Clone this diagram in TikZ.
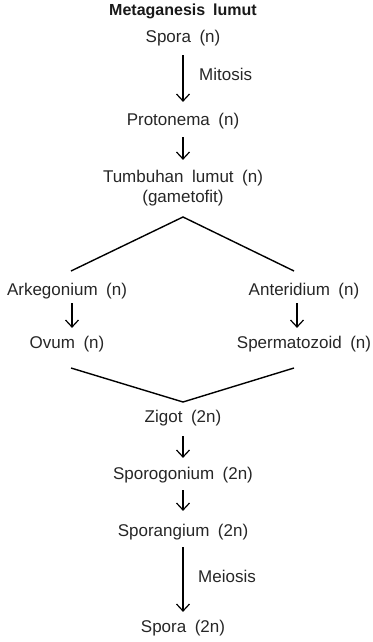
\documentclass[tikz,border=0pt]{standalone}
\usepackage{fontspec}
\setmainfont{Liberation Sans}[WordSpace=1.8]
\usetikzlibrary{arrows.meta}
\newcommand\lblfont{\fontsize{17}{20}\selectfont}
\newcommand\ttlfont{\fontsize{16}{19}\selectfont\bfseries}
\begin{document}
\begin{tikzpicture}[x=1pt,y=-1pt,
  lbl/.style={font=\lblfont, inner sep=0pt, text=black!85},
  ttl/.style={font=\ttlfont, inner sep=0pt, text=black!90},
  arr/.style={line width=1.2pt, -{Straight Barb[length=7pt,width=13pt,line width=1.2pt]}},
  ln/.style={line width=1.4pt}]
\useasboundingbox (0,0) rectangle (372,642);
\node[ttl] (title) at (183,11) {Metaganesis lumut};
\node[lbl] (spora) at (183,38) {Spora (n)};
\node[lbl] (proto) at (183,121) {Protonema (n)};
\node[lbl, align=center] (tumb) at (183,188) {Tumbuhan lumut (n)\\(gametofit)};
\coordinate (apex1) at (183,217);
\coordinate (l1) at (71,271);
\coordinate (r1) at (294,271);
\node[lbl] (arke) at (67,291) {Arkegonium (n)};
\node[lbl] (ante) at (304,291) {Anteridium (n)};
\node[lbl] (ovum) at (67,344) {Ovum (n)};
\node[lbl] (sperm) at (304,344) {Spermatozoid (n)};
\coordinate (l2) at (71,368);
\coordinate (r2) at (294,368);
\coordinate (apex2) at (183,402);
\node[lbl] (zigot) at (183,418) {Zigot (2n)};
\node[lbl] (sporog) at (183,475) {Sporogonium (2n)};
\node[lbl] (sporang) at (183,532) {Sporangium (2n)};
\node[lbl] (spora2) at (183,628) {Spora (2n)};
\node[lbl, anchor=west] (mit) at (199,74) {Mitosis};
\node[lbl, anchor=west] (mei) at (198,576) {Meiosis};
% arrows
\draw[arr, shorten <=9pt, shorten >=11pt] (spora.south) -- (proto.north);
\draw[arr, shorten <=8pt, shorten >=10pt] (proto.south) -- (tumb.north);
\draw[arr, shorten <=4pt, shorten >=8pt] ([xshift=5pt]arke.south) -- ([xshift=5pt]ovum.north);
\draw[arr, shorten <=4pt, shorten >=8pt] ([xshift=-7pt]ante.south) -- ([xshift=-7pt]sperm.north);
\draw[arr, shorten <=10pt, shorten >=9pt] (zigot.south) -- (sporog.north);
\draw[arr, shorten <=7pt, shorten >=13pt] (sporog.south) -- (sporang.north);
\draw[arr, shorten <=7pt, shorten >=8pt] (sporang.south) -- (spora2.north);
% branching lines
\draw[ln] (l1) -- (apex1) -- (r1);
\draw[ln] (l2) -- (apex2) -- (r2);
\end{tikzpicture}
\end{document}
